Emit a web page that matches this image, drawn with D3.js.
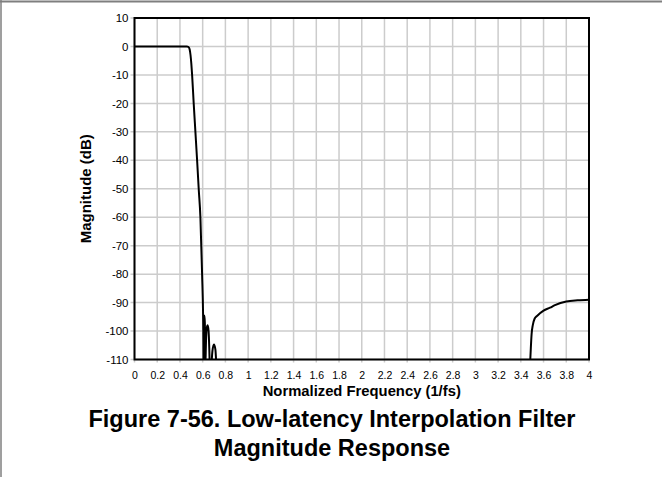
<!DOCTYPE html>
<html>
<head>
<meta charset="utf-8">
<script src="https://cdn.jsdelivr.net/npm/d3@7"></script>
<style>
  html, body { margin: 0; padding: 0; background: #fff; }
  svg { display: block; font-family: "Liberation Sans", Arial, Helvetica, sans-serif; }
</style>
</head>
<body>
<svg id="chart" width="662" height="477"></svg>
<script>
// ---- data ----
const xTicks = [0, 0.2, 0.4, 0.6, 0.8, 1, 1.2, 1.4, 1.6, 1.8, 2, 2.2, 2.4, 2.6, 2.8, 3, 3.2, 3.4, 3.6, 3.8, 4];
const yTicks = [10, 0, -10, -20, -30, -40, -50, -60, -70, -80, -90, -100, -110];

// passband + transition band
const passFreq = [0, 0.1, 0.2, 0.3, 0.4, 0.46, 0.475, 0.485, 0.493, 0.5, 0.507, 0.521, 0.536, 0.551, 0.565, 0.58, 0.595, 0.604, 0.609];
const passMag  = [0, 0, 0, 0, 0, 0, -0.2, -1, -3, -6, -10, -20, -30, -40, -50, -60, -80, -95, -112];
// stopband side lobes
const lobeFreq = [0.609, 0.612, 0.615, 0.619, 0.624, 0.629, 0.636, 0.644, 0.652, 0.658, 0.662];
const lobeMag  = [-112, -98, -94.5, -97, -112, -104, -99, -98, -100, -106, -112];
const lobe3Freq = [0.677, 0.686, 0.699, 0.712, 0.72];
const lobe3Mag  = [-112, -107, -104.7, -106.5, -112];
// image band near fs
const imgFreq = [3.481, 3.488, 3.495, 3.505, 3.522, 3.545, 3.6, 3.657, 3.7, 3.8, 3.9, 4.0];
const imgMag  = [-112, -106, -101, -98, -95.6, -94.6, -92.8, -91.8, -90.9, -89.6, -89.2, -89.0];

const xLabel = "Normalized Frequency (1/fs)";
const yLabel = "Magnitude (dB)";
const titleLines = ["Figure 7-56. Low-latency Interpolation Filter", "Magnitude Response"];

// ---- layout ----
const svg = d3.select("#chart");
const pL = 134.5, pR = 589, pT = 18, pB = 359.5;

const x = d3.scaleLinear().domain([0, 4]).range([pL, pR]);
const y = d3.scaleLinear().domain([10, -110]).range([pT, pB]);

// page frame
svg.append("line").attr("x1", 0).attr("x2", 662).attr("y1", 1.5).attr("y2", 1.5)
  .attr("stroke", "#7f7f7f").attr("stroke-width", 2);
svg.append("line").attr("x1", 1).attr("x2", 1).attr("y1", 0).attr("y2", 477)
  .attr("stroke", "#7f7f7f").attr("stroke-width", 1.5);

// grid
const grid = svg.append("g").attr("stroke", "#cccccc").attr("stroke-width", 1.5);
grid.selectAll("line.v").data(xTicks).join("line").attr("class", "v")
  .attr("x1", d => x(d)).attr("x2", d => x(d))
  .attr("y1", pT).attr("y2", pB + 3);
grid.selectAll("line.h").data(yTicks).join("line").attr("class", "h")
  .attr("x1", pL - 4).attr("x2", pR)
  .attr("y1", d => y(d)).attr("y2", d => y(d));

// axes labels via d3 axes
const xAxis = svg.append("g").attr("transform", `translate(0,${pB + 8})`)
  .call(d3.axisBottom(x).tickValues(xTicks).tickSize(0).tickPadding(4).tickFormat(d => String(d)));
const yAxis = svg.append("g").attr("transform", `translate(${pL - 2},0)`)
  .call(d3.axisLeft(y).tickValues(yTicks).tickSize(0).tickPadding(4).tickFormat(d => String(d)));
[xAxis, yAxis].forEach(a => {
  a.select(".domain").remove();
  a.selectAll("text").attr("fill", "#000")
    .attr("font-family", "'Liberation Sans', Arial, sans-serif");
});
xAxis.selectAll("text").attr("font-size", 10.5);
yAxis.selectAll("text").attr("font-size", 11.5);

// curves
svg.append("clipPath").attr("id", "clip").append("rect")
  .attr("x", pL).attr("y", pT).attr("width", pR - pL).attr("height", pB - pT);
const line = d3.line().x(d => x(d[0])).y(d => y(d[1])).curve(d3.curveMonotoneX);
const series = [
  d3.zip(passFreq, passMag),
  d3.zip(lobeFreq, lobeMag),
  d3.zip(lobe3Freq, lobe3Mag),
  d3.zip(imgFreq, imgMag)
];
svg.append("g").attr("clip-path", "url(#clip)")
  .selectAll("path").data(series).join("path")
  .attr("d", line).attr("fill", "none").attr("stroke", "#000").attr("stroke-width", 2)
  .attr("stroke-linejoin", "round");

// plot frame
svg.append("rect").attr("x", pL).attr("y", pT).attr("width", pR - pL).attr("height", pB - pT)
  .attr("fill", "none").attr("stroke", "#000").attr("stroke-width", 2);

// axis titles
svg.append("text").attr("x", (pL + pR) / 2).attr("y", 396)
  .attr("text-anchor", "middle").attr("font-weight", "bold").attr("font-size", 14.8)
  .text(xLabel);
svg.append("text").attr("transform", `translate(90.5,${(pT + pB) / 2}) rotate(-90)`)
  .attr("text-anchor", "middle").attr("font-weight", "bold").attr("font-size", 15)
  .text(yLabel);

// figure caption
svg.selectAll("text.title").data(titleLines).join("text").attr("class", "title")
  .attr("x", 332).attr("y", (d, i) => 427 + i * 29)
  .attr("text-anchor", "middle").attr("font-weight", "bold").attr("font-size", 23.5)
  .text(d => d);
</script>
</body>
</html>
